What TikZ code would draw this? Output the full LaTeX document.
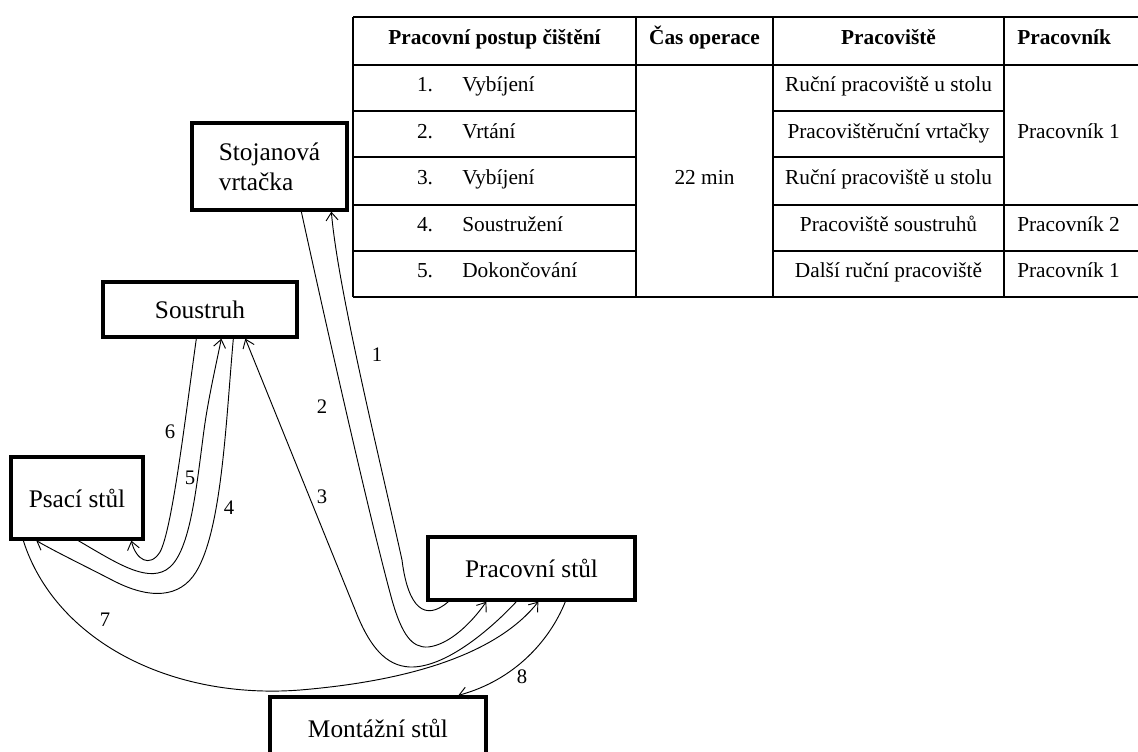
\documentclass[tikz,border=0pt]{standalone}
\usepackage{fontspec}
\setmainfont{Liberation Serif}
\usetikzlibrary{arrows.meta,calc}
\tikzset{
  >={Straight Barb[length=6pt,width=9pt]},
  station/.style={draw,line width=2.5pt,inner sep=0pt,align=center,
                  font=\fontsize{19}{22.5}\selectfont},
  route/.style={->,line width=0.7pt},
  routelbl/.style={font=\fontsize{15.5}{18}\selectfont,inner sep=1pt},
  tabcell/.style={font=\fontsize{16}{19}\selectfont,inner sep=0pt,
                  text height=1.6ex,text depth=.4ex},
  headcell/.style={tabcell,font=\fontsize{16}{19}\selectfont\bfseries},
  tabline/.style={line width=1.2pt},
  tabedge/.style={line width=1.8pt},
}

\begin{document}
\begin{tikzpicture}[x=0.75pt,y=-0.75pt]
  \useasboundingbox (0,0) rectangle (1138,751);

  % workplaces
  \node[station,align=left,minimum width=116.25pt,minimum height=65.25pt]
    (vrtacka) at (269.5,166.5) {Stojanová\\vrtačka};
  \node[station,minimum width=145.5pt,minimum height=41.25pt]
    (soustruh) at (200,309.5) {Soustruh};
  \node[station,minimum width=99pt,minimum height=61.5pt]
    (psaci) at (77,498) {Psací stůl};
  \node[station,minimum width=155.25pt,minimum height=47.25pt]
    (pracovni) at (531.5,568.5) {Pracovní stůl};
  \node[station,minimum width=162pt,minimum height=46.5pt]
    (montazni) at (378,728) {Montážní stůl};

  % routes 1--3 (drilling and back, then to the lathe)
  \draw[route] ($(pracovni.south west)+(22,0)$) .. controls (425,622) and (408,608) .. (402,560)
    .. controls (380,460) and (338,290) .. ($(vrtacka.south west)+(141,0)$);
  \draw[route] ($(vrtacka.south west)+(111,0)$) .. controls (325,320) and (370,520) .. (392,600)
    .. controls (402,635) and (412,648) .. (428,647)
    .. controls (448,645) and (470,625) .. ($(pracovni.south west)+(60,0)$);
  \draw[route] ($(pracovni.south west)+(90,0)$) .. controls (490,630) and (445,668) .. (410,667)
    .. controls (385,666) and (370,645) .. (358,617) -- ($(soustruh.south west)+(144,0)$);

  % routes 4--6 between lathe and desk
  \draw[route] ($(soustruh.south west)+(132,0)$) .. controls (226,420) and (222,530) .. (196,572)
    .. controls (180,598) and (150,600) .. (112,580)
    .. controls (85,566) and (58,553) .. ($(psaci.south west)+(27,0)$);
  \draw[route] ($(psaci.south west)+(69,0)$) .. controls (115,562) and (145,582) .. (166,570)
    .. controls (190,556) and (196,490) .. (204,430)
    .. controls (208,400) and (216,365) .. ($(soustruh.south west)+(120,0)$);
  \draw[route] ($(soustruh.south west)+(95,0)$) .. controls (185,420) and (172,530) .. (160,552)
    .. controls (150,568) and (136,560) .. ($(psaci.south west)+(122,0)$);

  % routes 7--8
  \draw[route] ($(psaci.south west)+(14,0)$) .. controls (55,640) and (170,700) .. (300,690)
    .. controls (420,680) and (500,650) .. ($(pracovni.south west)+(112,0)$);
  \draw[route] ($(pracovni.south west)+(139,0)$) .. controls (550,640) and (515,680)
    .. ($(montazni.north west)+(190,0)$);

  \node[routelbl] (l1) at (377,355) {1};
  \node[routelbl] (l2) at (322,407) {2};
  \node[routelbl] (l3) at (322,497) {3};
  \node[routelbl] (l4) at (229,508) {4};
  \node[routelbl] (l5) at (190,478) {5};
  \node[routelbl] (l6) at (170,432) {6};
  \node[routelbl] (l7) at (105,620) {7};
  \node[routelbl] (l8) at (522,677) {8};

  % table of operations
  \draw[tabedge] (353,17) -- (1145,17);
  \draw[tabline] (353,65) -- (1145,65);
  \foreach \y in {111,157} {
    \draw[tabline] (353,\y) -- (636,\y);
    \draw[tabline] (773,\y) -- (1004,\y);
  }
  \foreach \y in {205,251} {
    \draw[tabline] (353,\y) -- (636,\y);
    \draw[tabline] (773,\y) -- (1145,\y);
  }
  \draw[tabedge] (353,297) -- (1145,297);
  \foreach \x in {353,636,773,1004}
    \draw[tabline] (\x,17) -- (\x,297);

  \node[headcell] (hpostup) at (494.5,41) {Pracovní postup čištění};
  \node[headcell] (hcas) at (704.5,41) {Čas operace};
  \node[headcell] (hmisto) at (888.5,41) {Pracoviště};
  \node[headcell,anchor=west] (hprac) at (1017,41) {Pracovník};

  \foreach \op/\place [count=\i] in {Vybíjení/Ruční pracoviště u stolu,
      Vrtání/Pracovištěruční vrtačky, Vybíjení/Ruční pracoviště u stolu,
      Soustružení/Pracoviště soustruhů, Dokončování/Další ruční pracoviště} {
    \pgfmathsetmacro\yy{88+46.5*(\i-1)}
    \node[tabcell] (num\i) at (425,\yy) {\i.};
    \node[tabcell,anchor=west] (op\i) at (462,\yy) {\op};
    \node[tabcell] (place\i) at (888.5,\yy) {\place};
  }
  \node[tabcell] (cas) at (704.5,181) {22 min};
  \node[tabcell,anchor=west] (w1) at (1017,135) {Pracovník 1};
  \node[tabcell,anchor=west] (w2) at (1017,228) {Pracovník 2};
  \node[tabcell,anchor=west] (w3) at (1017,274) {Pracovník 1};
\end{tikzpicture}
\end{document}
